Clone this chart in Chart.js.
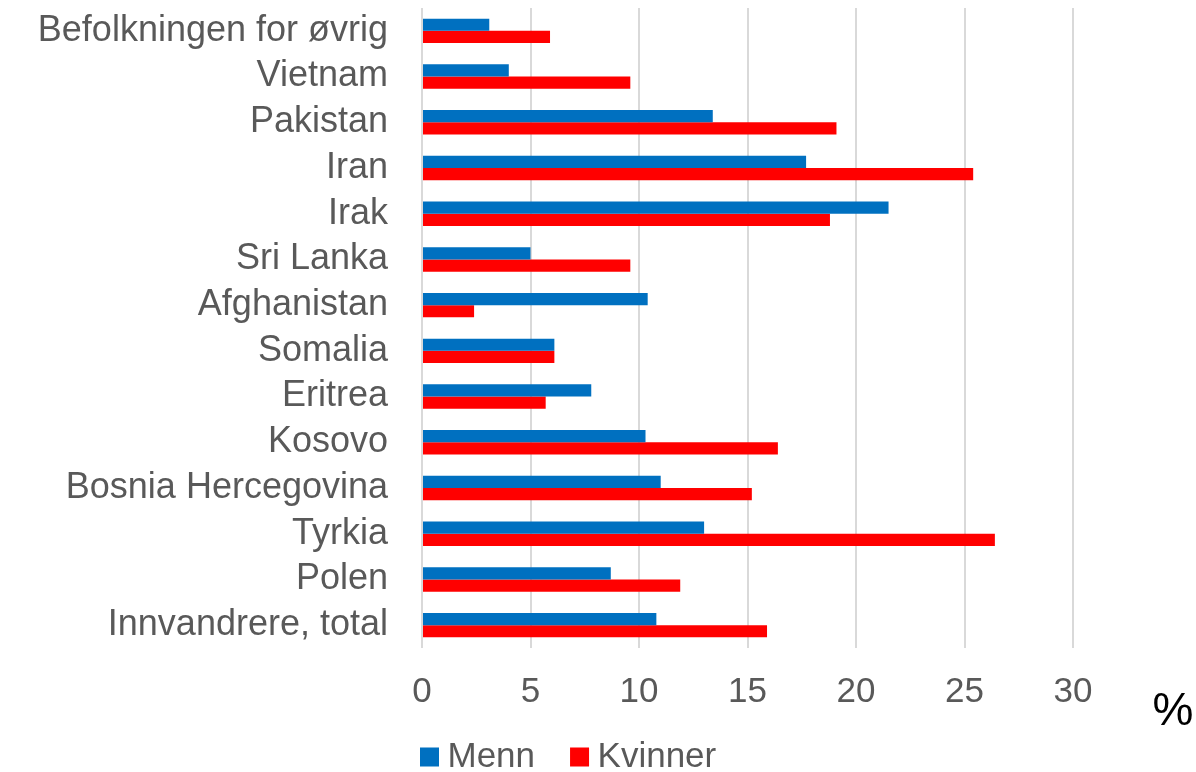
<!DOCTYPE html>
<html lang="no">
<head>
<meta charset="utf-8">
<title>Menn og kvinner</title>
<script src="https://cdn.jsdelivr.net/npm/chart.js@4/dist/chart.umd.min.js"></script>
<style>
  html, body { margin: 0; padding: 0; background: #fff; }
  #wrap { width: 1196px; height: 772px; }
</style>
</head>
<body>
<div id="wrap"><canvas id="chart" width="1196" height="772"></canvas></div>
<script>
const categories = [
  "Befolkningen for øvrig",
  "Vietnam",
  "Pakistan",
  "Iran",
  "Irak",
  "Sri Lanka",
  "Afghanistan",
  "Somalia",
  "Eritrea",
  "Kosovo",
  "Bosnia Hercegovina",
  "Tyrkia",
  "Polen",
  "Innvandrere, total",
];
const menn    = [3.1, 4.0, 13.4, 17.7, 21.5, 5.0, 10.4, 6.1, 7.8, 10.3, 11.0, 13.0, 8.7, 10.8];
const kvinner = [5.9, 9.6, 19.1, 25.4, 18.8, 9.6, 2.4, 6.1, 5.7, 16.4, 15.2, 26.4, 11.9, 15.9];
const xTicks  = [0, 5, 10, 15, 20, 25, 30];
const unitLabel = "%";

const FONT = "'Liberation Sans', Arial, sans-serif";
const TEXT = "#595959";
const LEGEND_PAD = 44;

// legend sits under the axis, left of centre, and "%" hangs off the right end
const placeLegend = {
  id: "placeLegend",
  afterLayout(chart) {
    const lg = chart.legend;
    lg.left = 385;
    lg.right = 1196;
    lg.top = 695.5;
    lg.bottom = 772;
  },
};

const unitText = {
  id: "unitText",
  afterDraw(chart) {
    const { ctx, chartArea } = chart;
    ctx.save();
    ctx.font = `46px ${FONT}`;
    ctx.fillStyle = "#000";
    ctx.textAlign = "center";
    ctx.textBaseline = "middle";
    ctx.fillText(unitLabel, chartArea.right + 100, chartArea.bottom + 64);
    ctx.restore();
  },
};

new Chart(document.getElementById("chart").getContext("2d"), {
  type: "bar",
  data: {
    labels: categories,
    datasets: [
      { label: "Menn", data: menn, backgroundColor: "#0070C0" },
      { label: "Kvinner", data: kvinner, backgroundColor: "#FF0000" },
    ],
  },
  options: {
    indexAxis: "y",
    responsive: false,
    animation: false,
    categoryPercentage: 0.534,
    barPercentage: 1,
    layout: { padding: { top: 8, right: 123, left: 0, bottom: -53 } },
    scales: {
      x: {
        min: 0,
        max: 30,
        afterBuildTicks: (s) => { s.ticks = xTicks.map((v) => ({ value: v })); },
        grid: { color: "#d9d9d9", lineWidth: 2, drawTicks: false },
        border: { display: false },
        ticks: { color: TEXT, font: { family: FONT, size: 35 }, padding: 23 },
      },
      y: {
        afterFit: (s) => {
          s.width = 422;
          s.paddingTop = 0;
          s.paddingBottom = 0;
        },
        grid: { display: false },
        border: { display: false },
        ticks: { color: TEXT, font: { family: FONT, size: 36 }, padding: 26, autoSkip: false },
      },
    },
    plugins: {
      tooltip: { enabled: false },
      legend: {
        position: "bottom",
        align: "start",
        labels: {
          usePointStyle: true,
          pointStyle: "rect",
          boxWidth: 1,
          boxHeight: 19,
          padding: LEGEND_PAD,
          color: TEXT,
          font: { family: FONT, size: 35 },
        },
      },
    },
  },
  plugins: [placeLegend, unitText],
});
</script>
</body>
</html>
